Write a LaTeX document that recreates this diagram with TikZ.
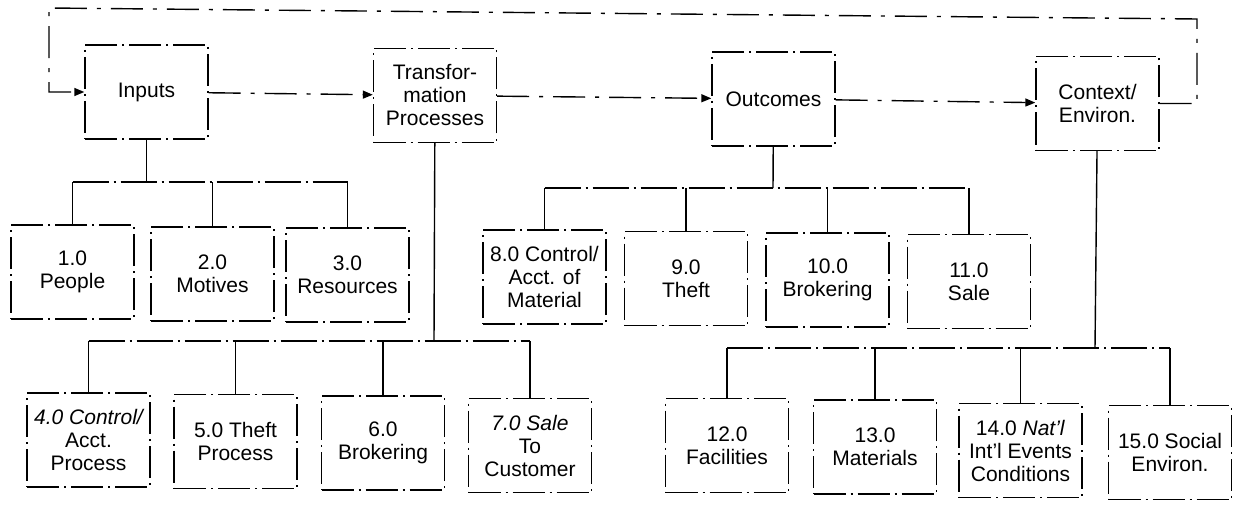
\documentclass[tikz,border=0pt]{standalone}
\usepackage{fontspec}
\setmainfont{Liberation Sans}
\usetikzlibrary{arrows.meta}
\begin{document}
\begin{tikzpicture}[
  x=0.5pt, y=-0.5pt,
  font=\fontsize{10.5}{11.5}\selectfont,
  box/.style={draw, line width=0.7pt, dash pattern=on 16pt off 2.5pt on 1pt off 2.5pt, align=center, inner sep=0pt, minimum width=61.5pt, minimum height=47pt},
  flow/.style={line width=0.7pt, dash pattern=on 16pt off 5pt on 2pt off 5pt},
  arr/.style={flow, -{Triangle[length=5pt,width=4pt]}},
  bus/.style={line width=0.7pt, dash pattern=on 18pt off 2.5pt on 1pt off 2.5pt},
  drop/.style={line width=0.7pt}
]
\useasboundingbox (0,0) rectangle (1236,508);
% main chain
\node[box] (inputs) at (146.5,92) {Inputs};
\node[box] (transf) at (435,95.5) {Transfor-\\mation\\Processes};
\node[box] (outcomes) at (773.5,99) {Outcomes};
\node[box] (context) at (1097.5,103.5) {Context/\\Environ.};
\draw[arr] (inputs) -- (transf);
\draw[arr] (transf) -- (outcomes);
\draw[arr] (outcomes) -- (context);
\coordinate (fbR) at (1197,19);
\coordinate (fbL) at (49,8);
\draw[arr] (context.east) -| (fbR) -- (fbL) |- (inputs.west);
% inputs
\node[box] (n1) at (72.5,272) {1.0\\People};
\node[box] (n2) at (212.5,274) {2.0\\Motives};
\node[box] (n3) at (347.5,275) {3.0\\Resources};
% outcomes
\node[box] (n8) at (544.5,277) {8.0 Control/\\Acct. of\\Material};
\node[box] (n9) at (686,278.5) {9.0\\Theft};
\node[box] (n10) at (827.5,280) {10.0\\Brokering};
\node[box] (n11) at (969,281.5) {11.0\\Sale};
% transformation processes
\node[box] (n4) at (88.5,440) {\itshape 4.0 Control/\\Acct.\\Process};
\node[box] (n5) at (235.5,441.5) {5.0 Theft\\Process};
\node[box] (n6) at (383,443) {6.0\\Brokering};
\node[box] (n7) at (530,445.5) {\itshape 7.0 Sale\\To\\Customer};
% context
\node[box] (n12) at (727,445.5) {12.0\\Facilities};
\node[box] (n13) at (875,447) {13.0\\Materials};
\node[box] (n14) at (1020.5,450.5) {14.0 \textit{Nat'l}\\Int'l Events\\Conditions};
\node[box] (n15) at (1170,452.5) {15.0 Social\\Environ.};
% trees
\coordinate (busIn) at (146.5,182);
\coordinate (busTr) at (434,341);
\coordinate (busOut) at (773,188);
\coordinate (busCx) at (1095,348);
\draw[drop] (inputs) -- (busIn);
\draw[bus] (n1 |- busIn) -- (n3 |- busIn);
\foreach \c in {n1,n2,n3} \draw[drop] (\c |- busIn) -- (\c);
\draw[drop] (transf) -- (busTr);
\draw[bus] (n4 |- busTr) -- (n7 |- busTr);
\foreach \c in {n4,n5,n6,n7} \draw[drop] (\c |- busTr) -- (\c);
\draw[drop] (outcomes) -- (busOut);
\draw[bus] (n8 |- busOut) -- (n11 |- busOut);
\foreach \c in {n8,n9,n10,n11} \draw[drop] (\c |- busOut) -- (\c);
\draw[drop] (context) -- (busCx);
\draw[bus] (n12 |- busCx) -- (n15 |- busCx);
\foreach \c in {n12,n13,n14,n15} \draw[drop] (\c |- busCx) -- (\c);
\end{tikzpicture}
\end{document}
